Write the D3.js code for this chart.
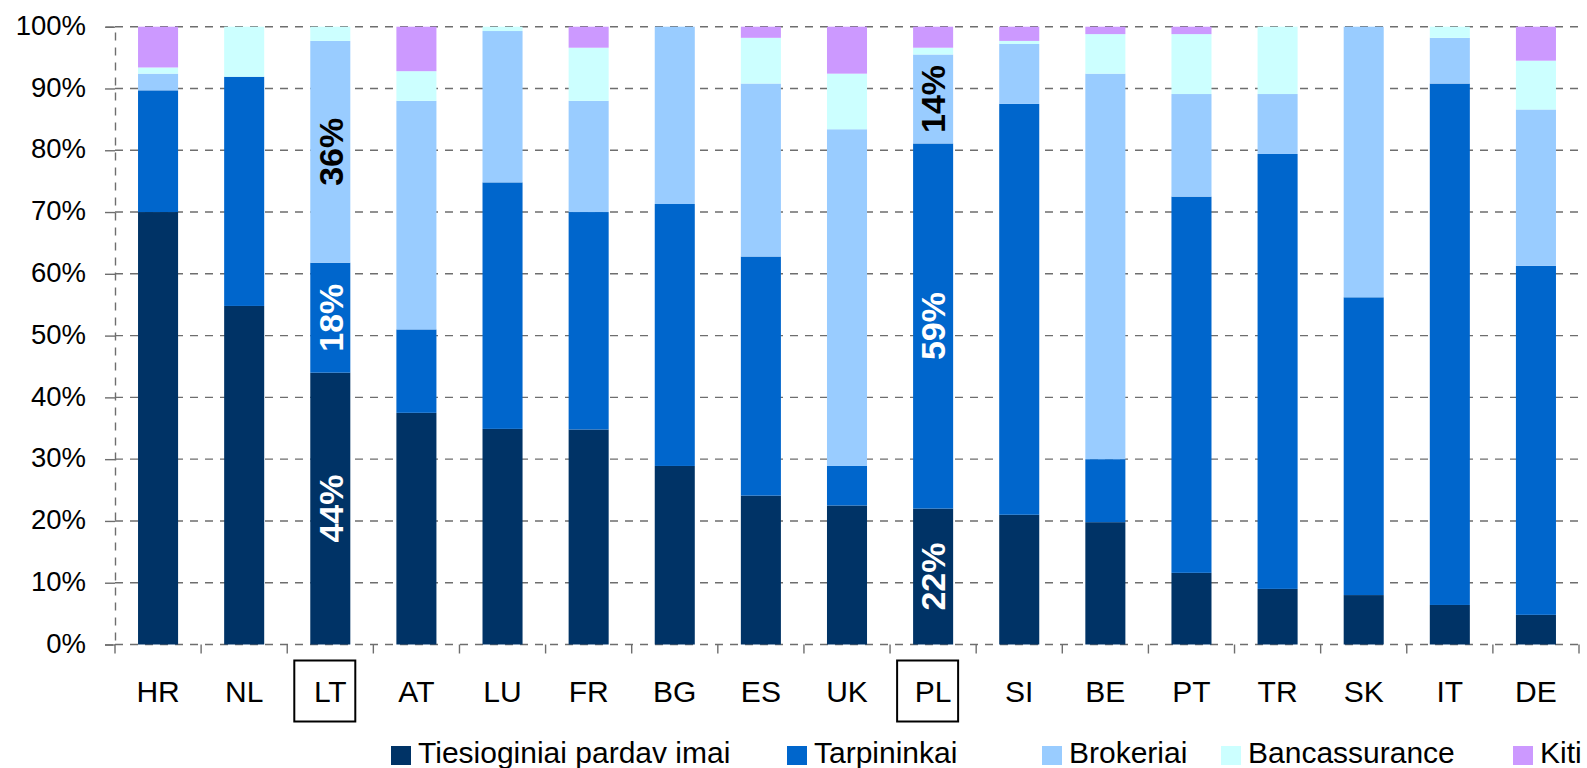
<!DOCTYPE html>
<html>
<head>
<meta charset="utf-8">
<script src="https://cdn.jsdelivr.net/npm/d3@7"></script>
<style>
    body { margin: 0; background: #fff; }
    svg { display: block; font-family: "Liberation Sans", Arial, sans-serif; }
</style>
</head>
<body>
<svg id="drawing_region"></svg>
<script>
const categories = ['HR','NL','LT','AT','LU','FR','BG','ES','UK','PL','SI','BE','PT','TR','SK','IT','DE'];
const seriesNames = ['Tiesioginiai pardav imai', 'Tarpininkai', 'Brokeriai', 'Bancassurance', 'Kiti'];
const seriesColors = ['#003366', '#0066cc', '#99ccff', '#ccffff', '#cc99ff'];

const direct  = [70.0, 54.8, 44.0, 37.5, 34.9, 34.8, 28.9, 24.1, 22.5, 22.0, 21.0, 19.8, 11.6,  9.0,  8.0,  6.4,  4.8];
const agents  = [19.7, 37.1, 17.8, 13.5, 39.9, 35.2, 42.4, 38.7,  6.4, 59.1, 66.5, 10.2, 60.9, 70.4, 48.2, 84.4, 56.5];
const brokers = [ 2.7,  0.0, 35.9, 37.0, 24.5, 18.0, 28.7, 28.0, 54.5, 14.4,  9.7, 62.4, 16.6,  9.7, 43.8,  7.4, 25.3];
const banc    = [ 1.0,  8.1,  2.3,  4.8,  0.7,  8.6,  0.0,  7.4,  9.0,  1.1,  0.5,  6.4,  9.7, 10.9,  0.0,  1.8,  7.9];
const other   = [ 6.6,  0.0,  0.0,  7.2,  0.0,  3.4,  0.0,  1.8,  7.6,  3.4,  2.3,  1.2,  1.2,  0.0,  0.0,  0.0,  5.5];

const yTicks = [0, 10, 20, 30, 40, 50, 60, 70, 80, 90, 100];
const boxedCategories = ['LT', 'PL'];
// value labels: category and series index
const labelCategories = ['LT', 'LT', 'LT', 'PL', 'PL', 'PL'];
const labelSeries     = [0, 1, 2, 0, 1, 2];

const config = {
    width: 1587,
    height: 768,
    margin: {top: 26.7, right: 8, bottom: 123.5, left: 115}
};

const svg = d3.select('#drawing_region')
    .attr('width', config.width)
    .attr('height', config.height);

const inner_width = config.width - config.margin.left - config.margin.right;
const inner_height = config.height - config.margin.top - config.margin.bottom;

const chart = svg.append('g')
    .attr('transform', `translate(${config.margin.left}, ${config.margin.top})`);

const keys = ['direct', 'agents', 'brokers', 'banc', 'other'];
const values = [direct, agents, brokers, banc, other];
const table = categories.map((c, i) => {
    const row = {label: c};
    keys.forEach((k, j) => row[k] = values[j][i]);
    return row;
});
const stacked = d3.stack().keys(keys)(table);

const xband = d3.scaleBand()
    .domain(categories)
    .range([0, inner_width]);

const xbar = d3.scaleBand()
    .domain(categories)
    .range([0, inner_width])
    .paddingInner(0.535)
    .paddingOuter(0.2675);

const yscale = d3.scaleLinear()
    .domain([0, 100])
    .range([inner_height, 0]);

const gridColor = '#6e6e6e';

// gridlines
chart.append('g')
    .selectAll('line')
    .data(yTicks)
    .join('line')
    .attr('x1', 0)
    .attr('x2', inner_width)
    .attr('y1', d => yscale(d))
    .attr('y2', d => yscale(d))
    .attr('stroke', gridColor)
    .attr('stroke-width', 1.4)
    .attr('stroke-dasharray', '8,7');

// y axis
const yaxis = d3.axisLeft(yscale)
    .tickValues(yTicks)
    .tickFormat(d => d + '%')
    .tickSize(10)
    .tickPadding(19);

const yaxis_group = chart.append('g').call(yaxis);
yaxis_group.select('.domain')
    .attr('stroke', gridColor)
    .attr('stroke-width', 1.4)
    .attr('stroke-dasharray', '8,7');
yaxis_group.selectAll('.tick line').attr('stroke', gridColor).attr('stroke-width', 1.4);
yaxis_group.selectAll('.tick text')
    .attr('font-size', 27.5)
    .attr('font-family', '"Liberation Sans", Arial, sans-serif')
    .attr('fill', '#000')
    .attr('dy', '0.28em');

// bars
chart.append('g')
    .selectAll('g')
    .data(stacked)
    .join('g')
    .attr('fill', (d, i) => seriesColors[i])
    .selectAll('rect')
    .data(d => d)
    .join('rect')
    .attr('x', d => xbar(d.data.label))
    .attr('width', xbar.bandwidth())
    .attr('y', d => yscale(d[1]))
    .attr('height', d => yscale(d[0]) - yscale(d[1]));

// x axis ticks at band edges
const xedges = categories.map(c => xband(c)).concat([inner_width]);
chart.append('g')
    .selectAll('line')
    .data(xedges)
    .join('line')
    .attr('x1', d => d)
    .attr('x2', d => d)
    .attr('y1', inner_height)
    .attr('y2', inner_height + 9)
    .attr('stroke', gridColor)
    .attr('stroke-width', 1.4);

const xaxis = d3.axisBottom(xband)
    .tickSize(0)
    .tickPadding(36);
const xaxis_group = chart.append('g')
    .attr('transform', `translate(0, ${inner_height})`)
    .call(xaxis);
xaxis_group.select('.domain').remove();
xaxis_group.selectAll('.tick text')
    .attr('font-size', 30)
    .attr('font-family', '"Liberation Sans", Arial, sans-serif')
    .attr('fill', '#000');

// boxes round highlighted categories
chart.append('g')
    .selectAll('rect')
    .data(boxedCategories)
    .join('rect')
    .attr('x', d => xband(d) + xband.bandwidth() / 2 - 36)
    .attr('y', inner_height + 16)
    .attr('width', 61)
    .attr('height', 61)
    .attr('fill', 'none')
    .attr('stroke', '#000')
    .attr('stroke-width', 2);

// value labels
const labels = labelCategories.map((c, i) => {
    const s = labelSeries[i];
    const seg = stacked[s][categories.indexOf(c)];
    return {label: c, series: s, value: seg[1] - seg[0], mid: (seg[0] + seg[1]) / 2};
});

chart.append('g')
    .selectAll('text')
    .data(labels)
    .join('text')
    .attr('transform', d => `translate(${xband(d.label) + xband.bandwidth() / 2}, ${yscale(d.mid)}) rotate(-90)`)
    .attr('text-anchor', 'middle')
    .attr('dy', '0.36em')
    .attr('font-size', 34)
    .attr('font-weight', 'bold')
    .attr('fill', d => d.series < 2 ? '#fff' : '#000')
    .text(d => Math.round(d.value) + '%');

// legend
const legendX = [391, 787, 1042, 1221, 1513];
const legend = svg.append('g')
    .selectAll('g')
    .data(seriesNames)
    .join('g')
    .attr('transform', (d, i) => `translate(${legendX[i]}, 746)`);

legend.append('rect')
    .attr('width', 20)
    .attr('height', 19)
    .attr('fill', (d, i) => seriesColors[i]);

legend.append('text')
    .attr('x', 27)
    .attr('y', 17)
    .attr('font-size', 30)
    .attr('fill', '#000')
    .text(d => d);
</script>
</body>
</html>
